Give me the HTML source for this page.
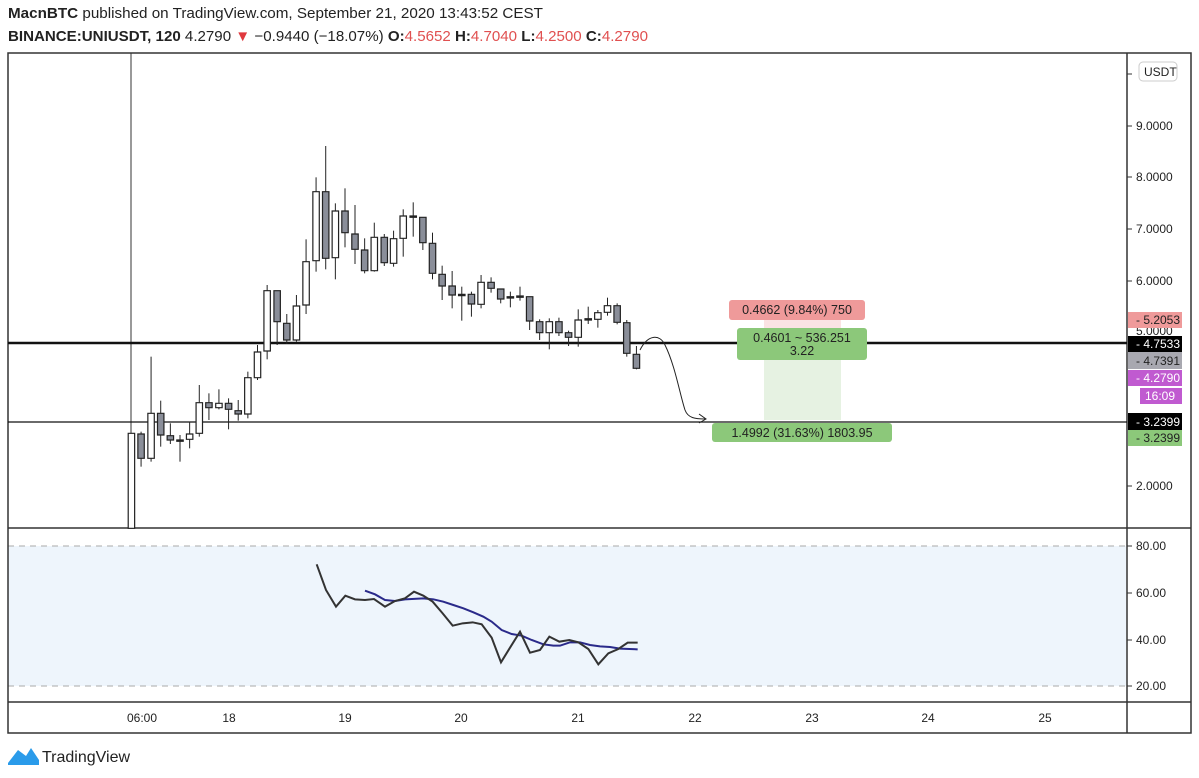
<!DOCTYPE html>
<html><head><meta charset="utf-8"><style>
body{margin:0;background:#fff;width:1199px;height:778px;overflow:hidden;font-family:"Liberation Sans",sans-serif;}
svg{position:absolute;left:0;top:0}
</style></head><body>
<svg width="1199" height="778" viewBox="0 0 1199 778" font-family="Liberation Sans, sans-serif">
<text x="8" y="18" font-size="15" fill="#222" textLength="535" lengthAdjust="spacingAndGlyphs"><tspan font-weight="bold">MacnBTC</tspan> published on TradingView.com, September 21, 2020 13:43:52 CEST</text>
<text x="8" y="41" font-size="15" fill="#222" textLength="640" lengthAdjust="spacingAndGlyphs"><tspan font-weight="bold">BINANCE:UNIUSDT, 120</tspan> 4.2790 <tspan fill="#e0393e">▼</tspan> −0.9440 (−18.07%) <tspan font-weight="bold">O:</tspan><tspan fill="#e05050">4.5652</tspan> <tspan font-weight="bold">H:</tspan><tspan fill="#e05050">4.7040</tspan> <tspan font-weight="bold">L:</tspan><tspan fill="#e05050">4.2500</tspan> <tspan font-weight="bold">C:</tspan><tspan fill="#e05050">4.2790</tspan></text>
<rect x="8" y="546" width="1118" height="140" fill="#eef5fc"/>
<line x1="8" y1="546" x2="1126" y2="546" stroke="#aaa" stroke-dasharray="6,5"/>
<line x1="8" y1="686" x2="1126" y2="686" stroke="#aaa" stroke-dasharray="6,5"/>
<rect x="8" y="53" width="1183" height="680" fill="none" stroke="#333" stroke-width="1.5"/>
<line x1="1127" y1="53" x2="1127" y2="733" stroke="#333" stroke-width="1.5"/>
<line x1="8" y1="528" x2="1191" y2="528" stroke="#333" stroke-width="1.5"/>
<line x1="8" y1="702" x2="1191" y2="702" stroke="#333" stroke-width="1.5"/>
<g font-size="12" fill="#222">
<rect x="1139" y="62" width="38" height="19" rx="4" fill="#fff" stroke="#ccc"/>
<text x="1144" y="76">USDT</text>
<line x1="1127" y1="74" x2="1132" y2="74" stroke="#333"/>
<line x1="1127" y1="126" x2="1132" y2="126" stroke="#333"/><text x="1136" y="130">9.0000</text>
<line x1="1127" y1="177" x2="1132" y2="177" stroke="#333"/><text x="1136" y="181">8.0000</text>
<line x1="1127" y1="229" x2="1132" y2="229" stroke="#333"/><text x="1136" y="233">7.0000</text>
<line x1="1127" y1="281" x2="1132" y2="281" stroke="#333"/><text x="1136" y="285">6.0000</text>
<text x="1136" y="335">5.0000</text>
<line x1="1127" y1="486" x2="1132" y2="486" stroke="#333"/><text x="1136" y="490">2.0000</text>
<rect x="1128" y="312" width="54" height="16" fill="#ef9a9a"/><text x="1136" y="324">- 5.2053</text>
<rect x="1128" y="336" width="54" height="16" fill="#000"/><text x="1136" y="348" fill="#fff">- 4.7533</text>
<rect x="1128" y="352" width="54" height="17" fill="#a8a8b0"/><text x="1136" y="365">- 4.7391</text>
<rect x="1128" y="370" width="54" height="16" fill="#c05ad0"/><text x="1136" y="382" fill="#fff">- 4.2790</text>
<rect x="1140" y="388" width="42" height="16" fill="#c05ad0"/><text x="1145" y="400" fill="#fff">16:09</text>
<rect x="1128" y="413" width="54" height="17" fill="#000"/><text x="1136" y="426" fill="#fff">- 3.2399</text>
<rect x="1128" y="430" width="54" height="16" fill="#8cc87a"/><text x="1136" y="442">- 3.2399</text>
<line x1="1127" y1="546" x2="1132" y2="546" stroke="#333"/><text x="1136" y="550">80.00</text>
<line x1="1127" y1="593" x2="1132" y2="593" stroke="#333"/><text x="1136" y="597">60.00</text>
<line x1="1127" y1="640" x2="1132" y2="640" stroke="#333"/><text x="1136" y="644">40.00</text>
<line x1="1127" y1="686" x2="1132" y2="686" stroke="#333"/><text x="1136" y="690">20.00</text>
</g>
<g font-size="12" fill="#222" text-anchor="middle">
<text x="142" y="722">06:00</text><text x="229" y="722">18</text><text x="345" y="722">19</text><text x="461" y="722">20</text><text x="578" y="722">21</text><text x="695" y="722">22</text><text x="812" y="722">23</text><text x="928" y="722">24</text><text x="1045" y="722">25</text>
</g>
<line x1="131" y1="53" x2="131" y2="528" stroke="#333"/>
<line x1="8" y1="343" x2="1127" y2="343" stroke="#111" stroke-width="2.5"/>
<line x1="8" y1="422" x2="1127" y2="422" stroke="#111" stroke-width="1.2"/>
<rect x="764" y="318" width="77" height="14" fill="#fbe3e3"/>
<rect x="764" y="360" width="77" height="60" fill="#e6f2e2"/>
<g id="c" transform="translate(100,140) scale(0.357143,0.33333)" stroke="#222"></g>
<path d="M640,350 C648,334 660,334 665,345 C675,365 680,395 685,410 C688,418 695,419 705,419" fill="none" stroke="#222" stroke-width="1"/>
<path d="M699,414 L706,419 L699,423" fill="none" stroke="#222" stroke-width="1"/>
<g font-size="12.5" fill="#222" text-anchor="middle">
<rect x="729" y="300" width="136" height="20" rx="3" fill="#ef9a9a"/><text x="797" y="314">0.4662 (9.84%) 750</text>
<rect x="737" y="328" width="130" height="32" rx="3" fill="#8cc87a"/><text x="802" y="342">0.4601 ~ 536.251</text><text x="802" y="355">3.22</text>
<rect x="712" y="423" width="180" height="19" rx="3" fill="#8cc87a"/><text x="802" y="437">1.4992 (31.63%) 1803.95</text>
</g>
<polyline transform="translate(290,555) scale(0.33333)" fill="none" stroke="#2a2a8a" stroke-width="6" points="225,107 255,118 285,135 315,138 345,133 400,130 430,133 460,140 490,150 520,160 550,172 580,185 605,200 635,225 665,237 695,242 725,255 760,268 790,272 810,272 840,262 870,262 900,270 930,274 960,276 990,281 1043,283"/>
<polyline transform="translate(290,555) scale(0.33333)" fill="none" stroke="#333" stroke-width="6" points="80,28 108,105 138,155 166,122 195,133 225,135 252,132 285,155 315,138 345,130 372,110 400,122 428,140 458,175 488,212 518,205 548,202 575,208 605,248 633,322 660,278 690,230 720,293 750,285 778,245 808,260 838,255 865,262 895,282 925,328 955,295 985,282 1013,263 1043,263"/>
<path d="M8,763 L18,750 L26,756 L31,748 L39,760 L39,765 L8,765 Z" fill="#2a9bea"/>
<text x="42" y="762" font-size="16" fill="#222">TradingView</text>
</svg>
<script>
var d=[[88,'w',880,1165,880,1165],[115,'g',882,955,875,980],[143,'w',820,955,650,965],[170,'g',820,885,782,920],[197,'g',887,900,850,912],[224,'d',902,902,885,965],[251,'w',882,898,845,925],[278,'w',788,880,735,890],[305,'g',788,803,760,840],[333,'w',790,803,748,808],[360,'g',790,808,775,868],[387,'g',812,822,780,842],[414,'w',713,822,695,835],[441,'w',636,713,615,720],[468,'w',452,633,435,658],[496,'g',452,545,452,615],[523,'g',550,600,522,612],[550,'w',498,600,465,605],[577,'w',365,495,298,522],[605,'w',155,362,112,395],[632,'g',155,355,18,388],[659,'w',213,353,190,418],[686,'g',213,278,145,322],[714,'g',282,328,195,372],[741,'g',330,392,295,400],[768,'w',292,392,248,395],[796,'g',292,368,282,378],[822,'w',296,370,272,380],[849,'w',228,295,208,350],[877,'d',230,230,187,290],[904,'g',232,308,232,330],[931,'g',310,400,278,418],[958,'g',403,438,377,480],[986,'g',438,465,393,505],[1013,'d',465,465,440,542],[1040,'g',463,492,455,530],[1067,'w',427,493,405,505],[1095,'g',427,445,412,458],[1122,'g',447,477,447,490],[1149,'d',472,472,455,502],[1176,'d',470,470,440,482],[1203,'g',470,543,470,570],[1231,'g',545,578,538,600],[1258,'w',545,578,535,628],[1285,'g',545,578,533,588],[1312,'g',578,592,572,618],[1339,'w',540,592,508,620],[1367,'d',538,538,500,552],[1394,'w',518,538,510,563],[1421,'w',497,517,473,527],[1448,'g',497,547,490,553],[1475,'g',548,640,540,650],[1502,'g',643,685,618,688]];
var s='';d.forEach(function(c){s+='<line x1="'+c[0]+'" y1="'+c[4]+'" x2="'+c[0]+'" y2="'+c[5]+'" vector-effect="non-scaling-stroke" stroke-width="1"/>';var h=Math.max(c[3]-c[2],4);s+='<rect x="'+(c[0]-9)+'" y="'+(c[1]=='d'?c[2]-2:c[2])+'" width="18" height="'+h+'" vector-effect="non-scaling-stroke" stroke-width="1.2" fill="'+(c[1]=='g'?'#8a8e99':(c[1]=='d'?'#222':'#fff'))+'"/>';});
document.getElementById('c').innerHTML=s;
</script>
</body></html>
